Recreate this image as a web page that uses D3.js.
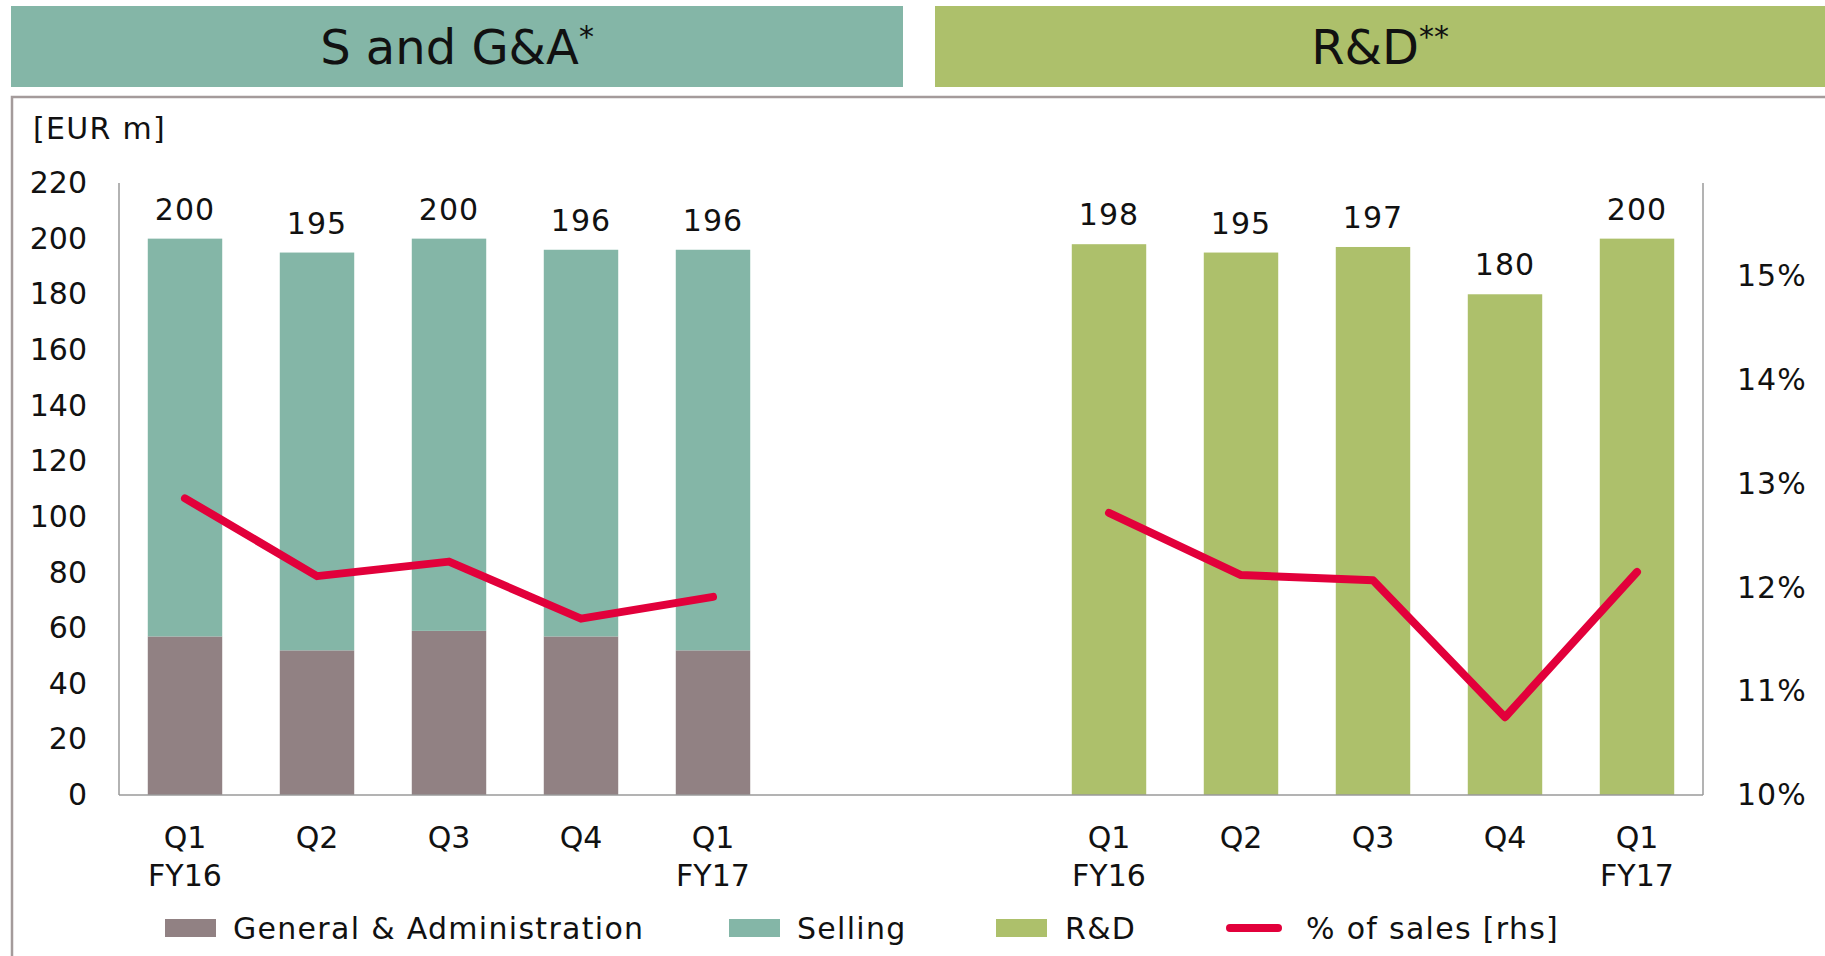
<!DOCTYPE html>
<html>
<head>
<meta charset="utf-8">
<script src="https://cdn.jsdelivr.net/npm/d3@7"></script>
<style>
  body { margin: 0; background: #fff; }
  svg { display: block; font-family: "DejaVu Sans", Verdana, sans-serif; }
</style>
</head>
<body>
<div id="chart"></div>
<script>
// Data
var quarters = ["Q1|FY16", "Q2", "Q3", "Q4", "Q1|FY17"];
var sgaGA = [57, 52, 59, 57, 52];
var sgaSelling = [143, 143, 141, 139, 144];
var sgaTotal = [200, 195, 200, 196, 196];
var sgaPct = [0.1286, 0.1211, 0.1225, 0.1170, 0.1191];
var rdValues = [198, 195, 197, 180, 200];
var rdPct = [0.1272, 0.1212, 0.1207, 0.1075, 0.1215];
var leftTicks = [0, 20, 40, 60, 80, 100, 120, 140, 160, 180, 200, 220];
var rightTicks = [0.10, 0.11, 0.12, 0.13, 0.14, 0.15];

var width = 1825, height = 956;
var margin = { top: 183, right: 122, bottom: 161, left: 119 };

var colorGA = "#918183", colorSelling = "#84b6a7", colorRD = "#adc06b", colorLine = "#e2003b";

var svg = d3.select("#chart").append("svg").attr("width", width).attr("height", height);

// Header boxes
var headers = [
    { x: 11, w: 892, fill: colorSelling, label: "S and G&A", sup: "*" },
    { x: 935, w: 890, fill: colorRD, label: "R&D", sup: "**" }
];
headers.forEach(function(h) {
    svg.append("rect").attr("x", h.x).attr("y", 6).attr("width", h.w).attr("height", 81).attr("fill", h.fill);
    var t = svg.append("text").attr("x", h.x + h.w / 2).attr("y", 64)
        .attr("text-anchor", "middle").style("font-size", "48px").style("fill", "#111");
    t.append("tspan").text(h.label);
    t.append("tspan").attr("dy", -17).style("font-size", "30px").text(h.sup);
});

// Frame
svg.append("rect").attr("x", 12).attr("y", 97).attr("width", 1830).attr("height", 900)
    .attr("fill", "none").attr("stroke", "#a49b9b").attr("stroke-width", 2.5);

var innerW = width - margin.left - margin.right;
var innerH = height - margin.top - margin.bottom;
var g = svg.append("g").attr("transform", "translate(" + margin.left + "," + margin.top + ")");

// Scales
var keys = [];
quarters.forEach(function(q, i) { keys.push("S" + i); });
keys.push("gap1", "gap2");
quarters.forEach(function(q, i) { keys.push("R" + i); });

var x = d3.scaleBand().domain(keys).range([0, innerW]).paddingInner(0.436).paddingOuter(0.218);
var y = d3.scaleLinear().domain([0, 220]).range([innerH, 0]);
var y2 = d3.scaleLinear().domain([0.10, 0.159]).range([innerH, 0]);

// Axes
var axisColor = "#9a9a9a";
g.append("line").attr("x1", 0).attr("x2", 0).attr("y1", 0).attr("y2", innerH).attr("stroke", axisColor).attr("stroke-width", 1.5);
g.append("line").attr("x1", innerW).attr("x2", innerW).attr("y1", 0).attr("y2", innerH).attr("stroke", axisColor).attr("stroke-width", 1.5);

var yAxis = g.append("g").call(d3.axisLeft(y).tickValues(leftTicks).tickSize(0).tickPadding(32));
yAxis.select(".domain").remove();
yAxis.selectAll("text").style("font-size", "30px").style("fill", "#111").style("font-family", "DejaVu Sans, Verdana, sans-serif");

var yAxis2 = g.append("g").attr("transform", "translate(" + innerW + ",0)")
    .call(d3.axisRight(y2).tickValues(rightTicks).tickSize(0).tickPadding(34).tickFormat(d3.format(".0%")));
yAxis2.select(".domain").remove();
yAxis2.selectAll("text").style("font-size", "30px").style("fill", "#111").style("font-family", "DejaVu Sans, Verdana, sans-serif")
    .style("letter-spacing", "1px");

// Bars - S and G&A (stacked)
var sgaData = quarters.map(function(q, i) {
    return { key: "S" + i, ga: sgaGA[i], selling: sgaSelling[i], total: sgaTotal[i], pct: sgaPct[i] };
});
var rdData = quarters.map(function(q, i) {
    return { key: "R" + i, value: rdValues[i], pct: rdPct[i] };
});

g.selectAll(".bar-ga").data(sgaData).enter().append("rect")
    .attr("x", function(d) { return x(d.key); })
    .attr("width", x.bandwidth())
    .attr("y", function(d) { return y(d.ga); })
    .attr("height", function(d) { return innerH - y(d.ga); })
    .attr("fill", colorGA);
g.selectAll(".bar-sell").data(sgaData).enter().append("rect")
    .attr("x", function(d) { return x(d.key); })
    .attr("width", x.bandwidth())
    .attr("y", function(d) { return y(d.ga + d.selling); })
    .attr("height", function(d) { return y(d.ga) - y(d.ga + d.selling); })
    .attr("fill", colorSelling);
g.selectAll(".bar-rd").data(rdData).enter().append("rect")
    .attr("x", function(d) { return x(d.key); })
    .attr("width", x.bandwidth())
    .attr("y", function(d) { return y(d.value); })
    .attr("height", function(d) { return innerH - y(d.value); })
    .attr("fill", colorRD);

// Bar labels
var labelData = sgaData.map(function(d) { return { key: d.key, v: d.total }; })
    .concat(rdData.map(function(d) { return { key: d.key, v: d.value }; }));
g.selectAll(".bar-label").data(labelData).enter().append("text")
    .attr("x", function(d) { return x(d.key) + x.bandwidth() / 2; })
    .attr("y", function(d) { return y(d.v) - 19; })
    .attr("text-anchor", "middle")
    .style("font-size", "30px").style("fill", "#111").style("letter-spacing", "1px")
    .text(function(d) { return d.v; });

// Baseline
g.append("line").attr("x1", 0).attr("x2", innerW).attr("y1", innerH).attr("y2", innerH).attr("stroke", axisColor).attr("stroke-width", 1.5);

// % of sales lines
var line = d3.line()
    .x(function(d) { return x(d.key) + x.bandwidth() / 2; })
    .y(function(d) { return y2(d.pct); });
[sgaData, rdData].forEach(function(data) {
    g.append("path").datum(data).attr("d", line)
        .attr("fill", "none").attr("stroke", colorLine).attr("stroke-width", 8)
        .attr("stroke-linecap", "round").attr("stroke-linejoin", "round");
});

// X labels
var xLabels = sgaData.map(function(d, i) { return { key: d.key, q: quarters[i] }; })
    .concat(rdData.map(function(d, i) { return { key: d.key, q: quarters[i] }; }));
var xl = g.selectAll(".x-label").data(xLabels).enter().append("text")
    .attr("text-anchor", "middle")
    .style("font-size", "30px").style("fill", "#111");
xl.each(function(d) {
    var parts = d.q.split("|");
    var t = d3.select(this);
    parts.forEach(function(p, j) {
        t.append("tspan")
            .attr("x", x(d.key) + x.bandwidth() / 2)
            .attr("y", innerH + 53 + j * 38)
            .text(p);
    });
});

// Y label
svg.append("text").attr("x", 33).attr("y", 139).style("font-size", "30px").style("fill", "#111")
    .style("letter-spacing", "1.3px").text("[EUR m]");

// Legend
var legend = [
    { type: "rect", color: colorGA, label: "General & Administration", x: 165, tx: 233 },
    { type: "rect", color: colorSelling, label: "Selling", x: 729, tx: 797 },
    { type: "rect", color: colorRD, label: "R&D", x: 996, tx: 1065 },
    { type: "line", color: colorLine, label: "% of sales [rhs]", x: 1226, tx: 1306 }
];
var ly = 928;
legend.forEach(function(l) {
    if (l.type === "rect") {
        svg.append("rect").attr("x", l.x).attr("y", ly - 9).attr("width", 51).attr("height", 18).attr("fill", l.color);
    } else {
        svg.append("line").attr("x1", l.x + 4).attr("x2", l.x + 52).attr("y1", ly).attr("y2", ly)
            .attr("stroke", l.color).attr("stroke-width", 8).attr("stroke-linecap", "round");
    }
    svg.append("text").attr("x", l.tx).attr("y", ly + 11).style("font-size", "30px").style("fill", "#111")
        .style("letter-spacing", "1.3px").text(l.label);
});
</script>
</body>
</html>
